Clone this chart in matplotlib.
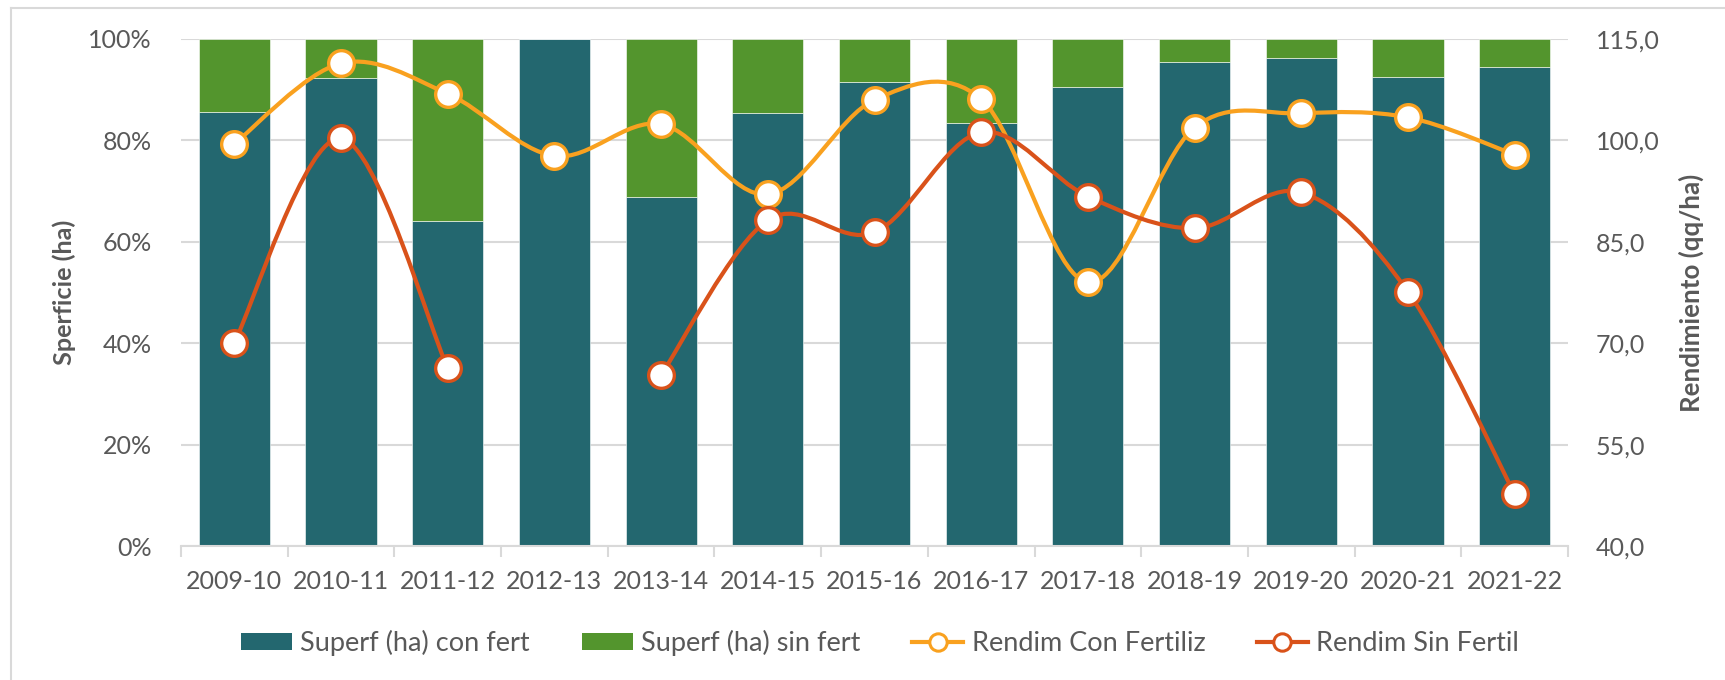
import numpy as np
import matplotlib
matplotlib.use("Agg")
import matplotlib.pyplot as plt
from matplotlib.path import Path
from matplotlib.patches import PathPatch, Patch
from matplotlib.lines import Line2D
from matplotlib.ticker import FixedLocator, FuncFormatter

# ---- data ----
campanias = ["2009-10", "2010-11", "2011-12", "2012-13", "2013-14", "2014-15", "2015-16",
             "2016-17", "2017-18", "2018-19", "2019-20", "2020-21", "2021-22"]
sup_con_fert = [85.7, 92.4, 64.2, 100.0, 68.9, 85.5, 91.5, 83.4, 90.6, 95.4, 96.2, 92.6, 94.5]
sup_sin_fert = [100.0 - v for v in sup_con_fert]
rend_con_fert = [99.5, 111.4, 106.9, 97.7, 102.4, 92.0, 106.0, 106.1, 79.0, 101.9, 104.0, 103.4, 97.9]
rend_sin_fert = [70.1, 100.3, 66.3, np.nan, 65.3, 88.2, 86.4, 101.2, 91.7, 87.0, 92.3, 77.6, 47.7]

# ---- style ----
C_CON = "#23676F"
C_SIN = "#53952D"
C_ORANGE = "#F9A11F"
C_RED = "#D9521A"
C_GRID = "#D9D9D9"
C_TEXT = "#595959"
FONT = "Lato"
FS = 18

plt.rcParams["font.family"] = [FONT, "DejaVu Sans"]

W, H = 1725, 680
L, R, T, B = 181, 1568, 39, 546  # plot area edges in pixels

fig = plt.figure(figsize=(W / 100, H / 100), dpi=100)
ax = fig.add_axes([L / W, 1 - B / H, (R - L) / W, (B - T) / H])
ax2 = ax.twinx()

x = np.arange(len(campanias))
w = 0.667
ax.bar(x, sup_con_fert, width=w, color=C_CON, edgecolor="white", linewidth=0.4, zorder=2,
       label="Superf (ha) con fert")
ax.bar(x, sup_sin_fert, width=w, bottom=sup_con_fert, color=C_SIN, edgecolor="white",
       linewidth=0.4, zorder=2, label="Superf (ha) sin fert")

ax.set_xlim(-0.5, len(campanias) - 0.5)
ax.set_ylim(0, 100)
ax2.set_ylim(40, 115)

# grid and axes
ax.yaxis.set_major_locator(FixedLocator([0, 20, 40, 60, 80, 100]))
ax.yaxis.set_major_formatter(FuncFormatter(lambda v, p: f"{v:.0f}%"))
ax.grid(axis="y", color=C_GRID, linewidth=1.5, zorder=0)
ax.set_axisbelow(True)
ax2.yaxis.set_major_locator(FixedLocator([40, 55, 70, 85, 100, 115]))
ax2.yaxis.set_major_formatter(FuncFormatter(lambda v, p: f"{v:.1f}".replace(".", ",")))

for a in (ax, ax2):
    for s in ("top", "left", "right", "bottom"):
        a.spines[s].set_visible(False)
ax.spines["bottom"].set_visible(True)
ax.spines["bottom"].set_color(C_GRID)
ax.spines["bottom"].set_linewidth(1.5)

ax.set_xticks(x)
ax.set_xticklabels(campanias)
ax.set_xticks(np.arange(-0.5, len(campanias)), minor=True)
ax.tick_params(axis="x", which="major", length=0, pad=17, labelsize=FS, labelcolor=C_TEXT)
ax.tick_params(axis="x", which="minor", length=8, width=1.5, color=C_GRID)
ax.tick_params(axis="y", length=0, pad=21, labelsize=FS, labelcolor=C_TEXT)
ax2.tick_params(axis="y", length=0, pad=20, labelsize=FS, labelcolor=C_TEXT)

ax.set_ylabel("Sperficie (ha)", fontsize=18.2, fontweight="bold", color=C_TEXT)
ax.yaxis.set_label_coords((76 - L) / (R - L), 0.5)
ax2.set_ylabel("Rendimiento (qq/ha)", fontsize=18.6, fontweight="bold", color=C_TEXT,
               rotation=90)
ax2.yaxis.set_label_coords((1679 - L) / (R - L), 0.5)


def smooth_path(xs, ys):
    """Cubic Bezier through the points, one run of consecutive non-missing values."""
    pts = np.column_stack([xs, ys])
    n = len(pts)
    verts = [pts[0]]
    codes = [Path.MOVETO]
    for i in range(n - 1):
        p0 = pts[i - 1] if i > 0 else pts[i]
        p1 = pts[i]
        p2 = pts[i + 1]
        p3 = pts[i + 2] if i + 2 < n else pts[i + 1]
        c1 = p1 + (p2 - p0) / 6.0
        c2 = p2 - (p3 - p1) / 6.0
        verts += [c1, c2, p2]
        codes += [Path.CURVE4] * 3
    return Path(verts, codes)


def draw_series(axis, values, color):
    vals = np.asarray(values, dtype=float)
    ok = ~np.isnan(vals)
    # split into runs of consecutive values
    runs, cur = [], []
    for i, good in enumerate(ok):
        if good:
            cur.append(i)
        elif cur:
            runs.append(cur)
            cur = []
    if cur:
        runs.append(cur)
    for r in runs:
        if len(r) > 1:
            axis.add_patch(PathPatch(smooth_path(x[r], vals[r]), facecolor="none",
                                     edgecolor=color, linewidth=3.0, capstyle="round",
                                     joinstyle="round", zorder=3))
    axis.plot(x[ok], vals[ok], linestyle="none", marker="o", markersize=18.5,
              markerfacecolor="white", markeredgecolor=color, markeredgewidth=2.4, zorder=4)


draw_series(ax2, rend_con_fert, C_ORANGE)
draw_series(ax2, rend_sin_fert, C_RED)

handles = [
    Patch(facecolor=C_CON, edgecolor="none"),
    Patch(facecolor=C_SIN, edgecolor="none"),
    Line2D([], [], color=C_ORANGE, linewidth=3, marker="o", markersize=12.5,
           markerfacecolor="white", markeredgecolor=C_ORANGE, markeredgewidth=2.2),
    Line2D([], [], color=C_RED, linewidth=3, marker="o", markersize=12.5,
           markerfacecolor="white", markeredgecolor=C_RED, markeredgewidth=2.2),
]
labels = ["Superf (ha) con fert", "Superf (ha) sin fert", "Rendim Con Fertiliz", "Rendim Sin Fertil"]
leg = fig.legend(handles, labels, loc="center", bbox_to_anchor=(880 / W, 1 - 643 / H),
                 ncol=4, frameon=False, fontsize=19.5, handlelength=1.9, handleheight=0.6,
                 handletextpad=0.3, columnspacing=1.9, labelcolor=C_TEXT)

# chart area border (top and left edges)
fig.add_artist(Line2D([11 / W, 11 / W], [0, 1 - 8 / H], transform=fig.transFigure,
                      color=C_GRID, linewidth=1.5))
fig.add_artist(Line2D([11 / W, 1], [1 - 8 / H, 1 - 8 / H], transform=fig.transFigure,
                      color=C_GRID, linewidth=1.5))

fig.savefig("out.png", dpi=100, facecolor="white")
